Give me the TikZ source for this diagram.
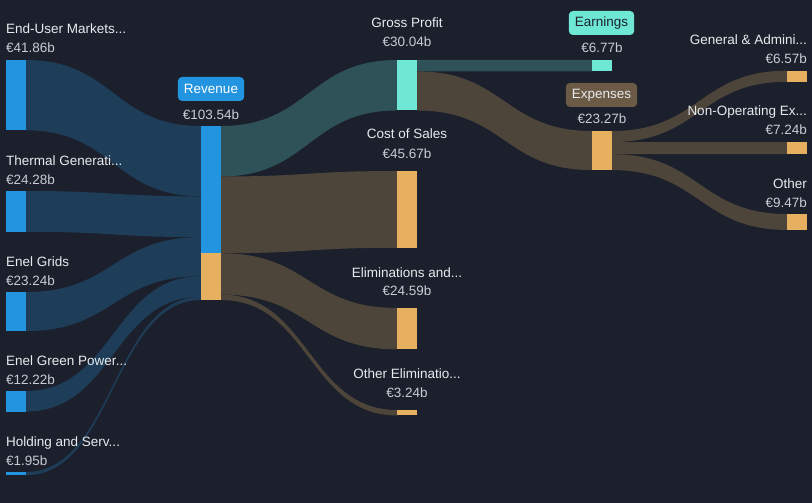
\documentclass[tikz,border=0pt]{standalone}
\usepackage{fontspec}
\setmainfont{Liberation Sans}
\usepackage{xcolor}
\usetikzlibrary{positioning}
\definecolor{skbg}{RGB}{27, 32, 44}
\definecolor{skblue}{RGB}{35, 148, 223}
\definecolor{skbluefl}{RGB}{30, 61, 89}
\definecolor{skteal}{RGB}{110, 232, 212}
\definecolor{sktealfl}{RGB}{46, 82, 87}
\definecolor{skorange}{RGB}{230, 176, 96}
\definecolor{skbrownfl}{RGB}{77, 69, 58}
\definecolor{skpill}{RGB}{106, 90, 70}
\definecolor{sktext}{RGB}{232, 234, 237}
\definecolor{skval}{RGB}{200, 204, 210}
\tikzset{
    bar/.style={rectangle, inner sep=0pt, outer sep=0pt, minimum width=20pt, anchor=north west},
    bluebar/.style={bar, fill=skblue},
    tealbar/.style={bar, fill=skteal},
    orangebar/.style={bar, fill=skorange},
    lbl/.style={inner sep=0pt, text=sktext, font=\fontsize{13.5}{16}\selectfont},
    amt/.style={inner sep=0pt, text=skval, font=\fontsize{13.5}{16}\selectfont},
    pill/.style={rounded corners=4pt, inner xsep=6pt, minimum height=24pt, font=\fontsize{13.5}{16}\selectfont}
}
% sankey band: x1, top1, bottom1, x2, top2, bottom2, colour
\newcommand{\skband}[7]{%
    \fill[#7] (#1,#2) .. controls ({(#1+#4)/2},#2) and ({(#1+#4)/2},#5) .. (#4,#5)
        -- (#4,#6) .. controls ({(#1+#4)/2},#6) and ({(#1+#4)/2},#3) .. (#1,#3) -- cycle;}

\begin{document}
\begin{tikzpicture}[x=1pt, y=-1pt]
    \fill[skbg] (0,0) rectangle (812,503);
    \useasboundingbox (0,0) rectangle (812,503);

    % flows into revenue
    \skband{26}{60}{130.35}{201}{126}{196.35}{skbluefl}
    \skband{26}{191}{231.8}{201}{196.35}{237.15}{skbluefl}
    \skband{26}{292}{331.05}{201}{237.15}{276.2}{skbluefl}
    \skband{26}{391}{411.54}{201}{276.2}{296.74}{skbluefl}
    \skband{26}{472}{475.28}{201}{296.74}{300.02}{skbluefl}
    % flows out of revenue
    \skband{221}{126}{176.48}{397}{60}{110.48}{sktealfl}
    \skband{221}{176.48}{253.23}{397}{171}{247.75}{skbrownfl}
    \skband{221}{253.23}{294.55}{397}{308}{349.32}{skbrownfl}
    \skband{221}{294.55}{300.02}{397}{410}{415.44}{skbrownfl}
    % flows out of gross profit
    \skband{417}{60}{71.38}{592}{60}{71.38}{sktealfl}
    \skband{417}{71.38}{110.48}{592}{131}{170.1}{skbrownfl}
    % flows out of expenses
    \skband{612}{131}{142.04}{787}{70.7}{81.74}{skbrownfl}
    \skband{612}{142.04}{154.21}{787}{142.04}{154.21}{skbrownfl}
    \skband{612}{154.21}{170.1}{787}{214}{229.91}{skbrownfl}

    % bars
    \node[bluebar, minimum height=70.35pt] (enduser) at (6,60) {};
    \node[bluebar, minimum height=40.8pt] (thermal) at (6,191) {};
    \node[bluebar, minimum height=39.05pt] (grids) at (6,292) {};
    \node[bluebar, minimum height=20.54pt] (green) at (6,391) {};
    \node[bluebar, minimum height=3.28pt] (holding) at (6,472) {};
    \node[bluebar, minimum height=127.23pt] (rev) at (201,126) {};
    \node[orangebar, minimum height=46.79pt] (revelim) at (201,253.23) {};
    \node[tealbar, minimum height=50.48pt] (gross) at (397,60) {};
    \node[orangebar, minimum height=76.75pt] (cos) at (397,171) {};
    \node[orangebar, minimum height=41.32pt] (elim) at (397,308) {};
    \node[orangebar, minimum height=5.44pt] (otherelim) at (397,410) {};
    \node[tealbar, minimum height=11.38pt] (earn) at (592,60) {};
    \node[orangebar, minimum height=39.1pt] (exp) at (592,131) {};
    \node[orangebar, minimum height=11.04pt] (ga) at (787,70.7) {};
    \node[orangebar, minimum height=12.17pt] (nonop) at (787,142.04) {};
    \node[orangebar, minimum height=15.91pt] (other) at (787,214) {};

    % left labels
    \node[lbl, anchor=base west] (enduserlbl) at (6,34) {End-User Markets...};
    \node[amt, anchor=base west] (enduseramt) at (6,53) {€41.86b};
    \node[lbl, anchor=base west] (thermallbl) at (6,165) {Thermal Generati...};
    \node[amt, anchor=base west] (thermalamt) at (6,184) {€24.28b};
    \node[lbl, anchor=base west] (gridslbl) at (6,266) {Enel Grids};
    \node[amt, anchor=base west] (gridsamt) at (6,285) {€23.24b};
    \node[lbl, anchor=base west] (greenlbl) at (6,365) {Enel Green Power...};
    \node[amt, anchor=base west] (greenamt) at (6,384) {€12.22b};
    \node[lbl, anchor=base west] (holdinglbl) at (6,446) {Holding and Serv...};
    \node[amt, anchor=base west] (holdingamt) at (6,465) {€1.95b};

    % revenue
    \node[pill, fill=skblue, text=white] (revlbl) at (211,89) {Revenue};
    \node[amt, anchor=base] (revamt) at (211,119) {€103.54b};

    % middle labels
    \node[lbl, anchor=base] (grosslbl) at (407,28) {Gross Profit};
    \node[amt, anchor=base] (grossamt) at (407,47) {€30.04b};
    \node[lbl, anchor=base] (coslbl) at (407,139) {Cost of Sales};
    \node[amt, anchor=base] (cosamt) at (407,158) {€45.67b};
    \node[lbl, anchor=base] (elimlbl) at (407,277) {Eliminations and...};
    \node[amt, anchor=base] (elimamt) at (407,295) {€24.59b};
    \node[lbl, anchor=base] (otherelimlbl) at (407,378) {Other Eliminatio...};
    \node[amt, anchor=base] (otherelimamt) at (407,397) {€3.24b};

    % earnings and expenses
    \node[pill, fill=skteal, text=skbg] (earnlbl) at (601.5,23) {Earnings};
    \node[amt, anchor=base] (earnamt) at (602,53) {€6.77b};
    \node[pill, fill=skpill, text=sktext] (explbl) at (601.5,95) {Expenses};
    \node[amt, anchor=base] (expamt) at (602,124) {€23.27b};

    % right labels
    \node[lbl, anchor=base east] (galbl) at (807,45) {General \& Admini...};
    \node[amt, anchor=base east] (gaamt) at (807,64) {€6.57b};
    \node[lbl, anchor=base east] (nonoplbl) at (807,116) {Non-Operating Ex...};
    \node[amt, anchor=base east] (nonopamt) at (807,135) {€7.24b};
    \node[lbl, anchor=base east] (otherlbl) at (807,188) {Other};
    \node[amt, anchor=base east] (otheramt) at (807,207) {€9.47b};
\end{tikzpicture}
\end{document}
